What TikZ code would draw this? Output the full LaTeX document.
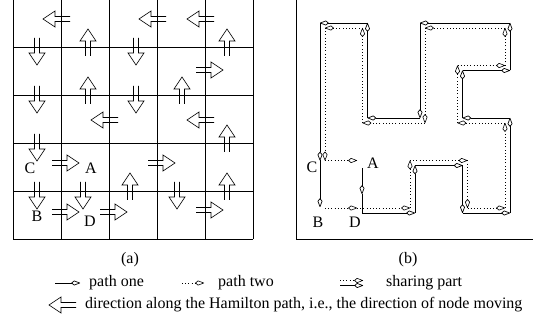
\documentclass[tikz,border=0pt]{standalone}
\usepackage{fontspec}
\setmainfont{Liberation Serif}
\usetikzlibrary{arrows.meta}

\tikzset{
  movearrow/.pic={
    \draw[line width=0.6pt] (-9,2.5) -- (6,2.5) -- (6,8) -- (18,0) -- (6,-8) -- (6,-2.5) -- (-9,-2.5);},
  kitetip/.style={-{Kite[open,round,length=9.5pt,width=5pt,inset=3pt]}},
  pathone/.style={line width=0.7pt, kitetip},
  pathtwo/.style={line width=0.6pt, dash pattern=on 0.8pt off 2.4pt, kitetip},
  lbl/.style={font=\fontsize{16}{18}\selectfont, inner sep=0pt},
  legtext/.style={font=\fontsize{16}{18}\selectfont, inner sep=0pt, anchor=west},
}

\begin{document}
\begin{tikzpicture}[x=1pt,y=-1pt]
  \useasboundingbox (0,0) rectangle (533,323);

  % (a) the grid
  \foreach \x in {13,61,...,253}
    \draw[line width=0.8pt] (\x,-1) -- (\x,239);
  \foreach \y in {-1,47,...,239}
    \draw[line width=0.8pt] (13,\y) -- (253,\y);

  % moving directions
  \foreach \x/\y in {61/19, 157/19, 205/19, 109/120, 205/120}
    \pic[rotate=180] at (\x,\y) {movearrow};
  \foreach \x/\y in {205/70, 61/163, 157/163, 61/212, 109/212, 205/210}
    \pic at (\x,\y) {movearrow};
  \foreach \x/\y in {88/47, 227/47, 88/95, 182/95, 227/143, 130/191, 227/191}
    \pic[rotate=90] at (\x,\y) {movearrow};
  \foreach \x/\y in {37/47, 136/47, 37/95, 136/95, 37/143, 37/191, 83/191, 177/191}
    \pic[rotate=-90] at (\x,\y) {movearrow};

  \node[lbl] (ca) at (30,168) {C};
  \node[lbl] (aa) at (91,168) {A};
  \node[lbl] (ba) at (37,216) {B};
  \node[lbl] (da) at (90,221) {D};

  % (b) the two paths
  \draw[line width=0.8pt] (296,-1) rectangle (536,239);

  \coordinate (pa) at (362,168);
  \coordinate (pm) at (362,194);
  \coordinate (p1) at (362,213);
  \coordinate (p2) at (415,213);
  \coordinate (p3) at (415,165.5);
  \coordinate (p4) at (462.5,165.5);
  \coordinate (p5) at (462.5,213);
  \coordinate (p6) at (510,213);
  \coordinate (p7) at (510,118);
  \coordinate (p8) at (462.5,118);
  \coordinate (p9) at (462.5,70.5);
  \coordinate (p10) at (510,70.5);
  \coordinate (p11) at (510,23);
  \coordinate (p12) at (420,23);
  \coordinate (p13) at (420,118);
  \coordinate (p14) at (367.5,118);
  \coordinate (p15) at (367.5,23);
  \coordinate (p16) at (320,23);
  \coordinate (p17) at (320,160.5);
  \coordinate (p18) at (320,207);

  \coordinate (q1) at (325,208);
  \coordinate (q2) at (357,208);
  \coordinate (q3) at (410,208);
  \coordinate (q4) at (410,160.5);
  \coordinate (q5) at (467.5,160.5);
  \coordinate (q6) at (467.5,208);
  \coordinate (q7) at (505,208);
  \coordinate (q8) at (505,123);
  \coordinate (q9) at (457.5,123);
  \coordinate (q10) at (457.5,65.5);
  \coordinate (q11) at (505,65.5);
  \coordinate (q12) at (505,28);
  \coordinate (q13) at (425,28);
  \coordinate (q14) at (425,123);
  \coordinate (q15) at (362.5,123);
  \coordinate (q16) at (362.5,28);
  \coordinate (q17) at (325,28);
  \coordinate (q18) at (325,160.5);
  \coordinate (q19) at (357,160.5);

  \draw[pathone] (pa) -- (pm);
  \draw[line width=0.7pt] (pm) -- (p1);
  \foreach \i [evaluate=\i as \j using int(\i+1)] in {1,...,17}
    \draw[pathone] (p\i) -- (p\j);
  \foreach \i [evaluate=\i as \j using int(\i+1)] in {1,...,18}
    \draw[pathtwo] (q\i) -- (q\j);

  \node[lbl] (cb) at (312,167) {C};
  \node[lbl] (ab) at (373,163) {A};
  \node[lbl] (bb) at (318,222) {B};
  \node[lbl] (db) at (355,222) {D};

  % captions and legend
  \node[lbl] (capa) at (130,260) {(a)};
  \node[lbl] (capb) at (408,260) {(b)};

  \coordinate (l1) at (55,283);
  \coordinate (l2) at (80,283);
  \draw[pathone] (l1) -- (l2);
  \node[legtext] (one) at (89,283) {path one};
  \coordinate (l3) at (182,283);
  \coordinate (l4) at (204,283);
  \draw[pathtwo] (l3) -- (l4);
  \node[legtext] (two) at (218,283) {path two};
  \coordinate (l5) at (340,280.5);
  \coordinate (l6) at (363,280.5);
  \coordinate (l7) at (340,285.5);
  \coordinate (l8) at (363,285.5);
  \draw[pathtwo] (l5) -- (l6);
  \draw[pathone] (l7) -- (l8);
  \node[legtext] (share) at (386,283) {sharing part};
  \pic[rotate=180] at (67,305) {movearrow};
  \node[legtext] (dir) at (85,305) {direction along the Hamilton path, i.e., the direction of node moving};
\end{tikzpicture}
\end{document}
